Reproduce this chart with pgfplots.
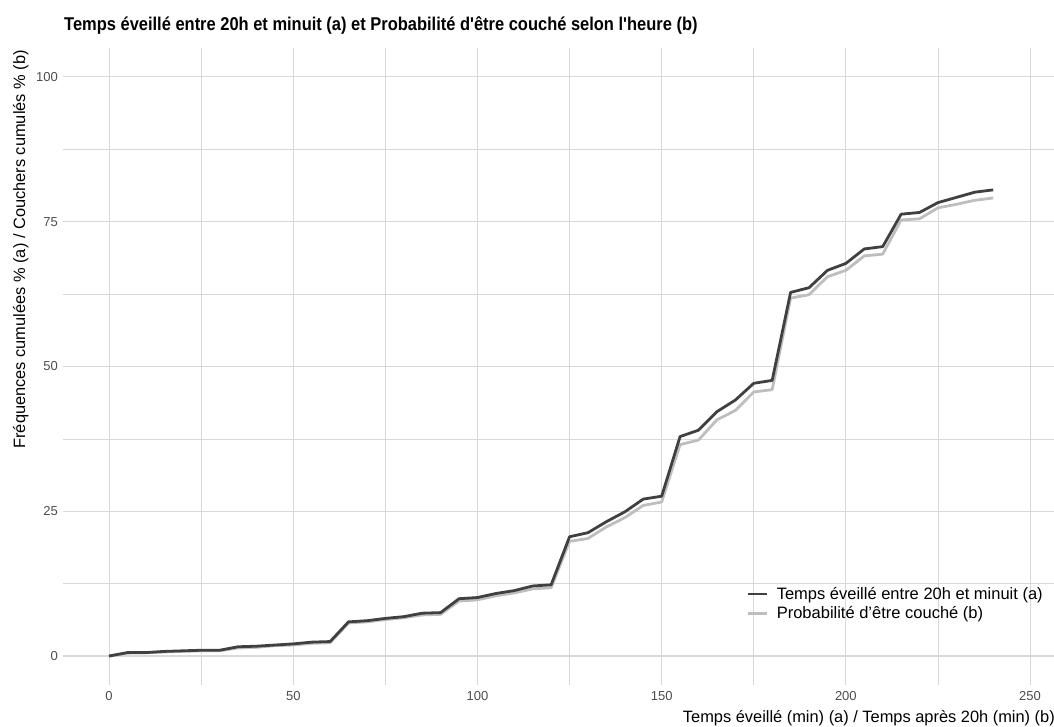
\documentclass[border=0pt]{standalone}
\usepackage{fontspec}
\setmainfont{Liberation Sans}
\newfontfamily\titlefont{Liberation Sans}[FakeStretch=0.89]
\usepackage{pgfplots}
\usepackage{pgfplotstable}
\pgfplotsset{compat=1.18}
\definecolor{darkline}{HTML}{404040}
\definecolor{lightline}{HTML}{BEBEBE}
\definecolor{gridc}{HTML}{D9D9D9}
\definecolor{tickc}{HTML}{4D4D4D}

\pgfplotstableread{
x a b
0 0 0
5 0.6 0.5
10 0.6 0.55
15 0.8 0.7
20 0.9 0.8
25 1.0 0.9
30 1.0 0.9
35 1.6 1.4
40 1.7 1.5
45 1.9 1.8
50 2.1 1.9
55 2.4 2.2
60 2.5 2.3
65 5.9 5.7
70 6.1 5.9
75 6.5 6.3
80 6.8 6.6
85 7.4 7.1
90 7.5 7.2
95 9.9 9.5
100 10.1 9.7
105 10.8 10.4
110 11.3 10.9
115 12.1 11.6
120 12.3 11.8
125 20.6 19.8
130 21.3 20.3
135 23.2 22.3
140 24.9 23.9
145 27.1 26.0
150 27.6 26.6
155 37.9 36.5
160 39.0 37.3
165 42.2 40.8
170 44.2 42.4
175 47.1 45.6
180 47.6 46.0
185 62.8 61.8
190 63.6 62.4
195 66.6 65.5
200 67.8 66.6
205 70.3 69.1
210 70.7 69.4
215 76.3 75.3
220 76.6 75.5
225 78.3 77.4
230 79.2 78.0
235 80.1 78.7
240 80.5 79.1
}\datatable

\begin{document}
\begin{tikzpicture}[x=1pt,y=1pt]
\useasboundingbox (0,0) rectangle (1054,727);
\begin{axis}[
  at={(63pt,42pt)}, anchor=south west,
  scale only axis, width=991pt, height=637pt,
  xmin=-12.5, xmax=256.5, ymin=-5, ymax=105,
  axis lines*=left,
  axis line style={draw=none},
  major tick length=0pt, minor tick length=0pt,
  xtick={0,50,...,250}, minor xtick={25,75,...,225},
  ytick={0,25,...,100}, minor ytick={12.5,37.5,62.5,87.5},
  grid=both,
  major grid style={gridc, line width=1.1pt},
  minor grid style={gridc, line width=0.6pt},
  tick label style={font=\fontsize{13}{15}\selectfont, text=tickc},
  /pgf/number format/assume math mode=true,
  xticklabel style={anchor=north, inner sep=0pt, yshift=-6.5pt},
  yticklabel style={anchor=east, inner sep=0pt, xshift=-5pt},
  legend style={draw=none, fill=none, at={(axis description cs:0.690,0.157)}, anchor=north west,
    font=\fontsize{16.5}{19}\selectfont, inner sep=0pt, row sep=2pt, column sep=6pt,
    nodes={inner sep=2pt}},
  legend cell align=left,
  legend image code/.code={\draw[#1] (0pt,0pt) -- (19pt,0pt);},
  reverse legend,
  clip=false,
]
\addplot[lightline, line width=2.8pt, line join=round] table[x=x, y=b] {\datatable};
\addlegendentry{Probabilité d'être couché (b)}
\addplot[darkline, line width=2.8pt, line join=round] table[x=x, y=a] {\datatable};
\addlegendentry{Temps éveillé entre 20h et minuit (a)}
\end{axis}
\node[anchor=base west, inner sep=0pt, font=\titlefont\bfseries\fontsize{18.5}{22}\selectfont] at (64,696) {Temps éveillé entre 20h et minuit (a) et Probabilité d'être couché selon l'heure (b)};
\node[anchor=base east, inner sep=0pt, font=\fontsize{16.4}{19}\selectfont] at (1055,4) {Temps éveillé (min) (a) / Temps après 20h (min) (b)};
\node[rotate=90, anchor=base east, inner sep=0pt, font=\fontsize{16.4}{19}\selectfont] at (25,677) {Fréquences cumulées \% (a) / Couchers cumulés \% (b)};
\end{tikzpicture}
\end{document}
